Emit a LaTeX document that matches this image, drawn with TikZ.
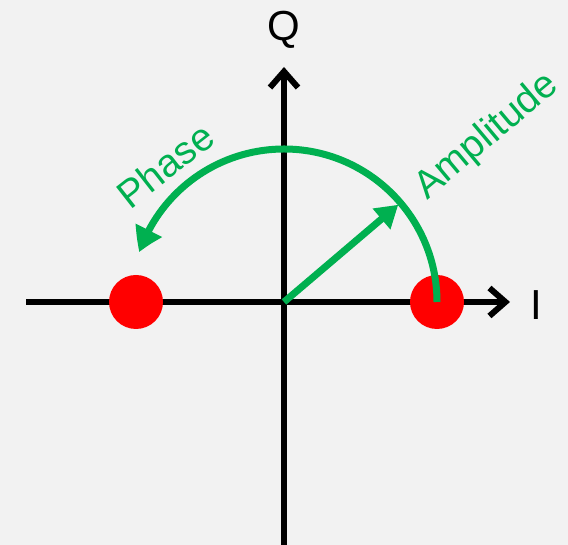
\documentclass[tikz,border=0pt]{standalone}
\usepackage{fontspec}
\setmainfont{Liberation Sans}
\usetikzlibrary{arrows.meta,bending,calc}
\definecolor{iqgreen}{RGB}{0,176,80}
\definecolor{iqred}{RGB}{255,0,0}
\definecolor{bggray}{RGB}{242,242,242}
\begin{document}
\begin{tikzpicture}[x=1pt, y=1pt,
    axis/.style={line width=6pt, -{Straight Barb[length=16pt,width=28pt,line width=6pt]}},
    garrow/.style={iqgreen, line width=7pt, -{Triangle[length=24pt,width=28pt,bend]}},
    symbol/.style={circle, fill=iqred, minimum size=54pt, inner sep=0pt},
    glabel/.style={iqgreen, font=\fontsize{39}{43}\selectfont},
    alabel/.style={font=\fontsize{42}{46}\selectfont}]
    \fill[bggray] (0,0) rectangle (568,545);
    \useasboundingbox (0,0) rectangle (568,545);
    % axes
    \coordinate (O) at (284,243);
    \coordinate (Ileft) at (26,243);
    \coordinate (Iend) at (510,243);
    \coordinate (Qbot) at (284,0);
    \coordinate (Qend) at (284,478);
    \draw[axis] (Ileft) -- (Iend);
    \draw[axis] (Qbot) -- (Qend);
    \node[alabel] (I) at (536,240) {I};
    \node[alabel] (Q) at (284,515) {Q};
    % symbols
    \node[symbol] (s0) at (136,243) {};
    \node[symbol] (s1) at (437,243) {};
    % phase and amplitude
    \draw[garrow] (s1.center) arc[start angle=0, end angle=161, radius=153];
    \coordinate (amp) at ($(O)+(40.4:150)$);
    \draw[garrow, -{Triangle[length=22pt,width=26pt]}] (O) -- (amp);
    \node[glabel, rotate=40] (amplitude) at (487,408) {Amplitude};
    \node[glabel, rotate=38] (phase) at (165,380) {Phase};
\end{tikzpicture}
\end{document}
